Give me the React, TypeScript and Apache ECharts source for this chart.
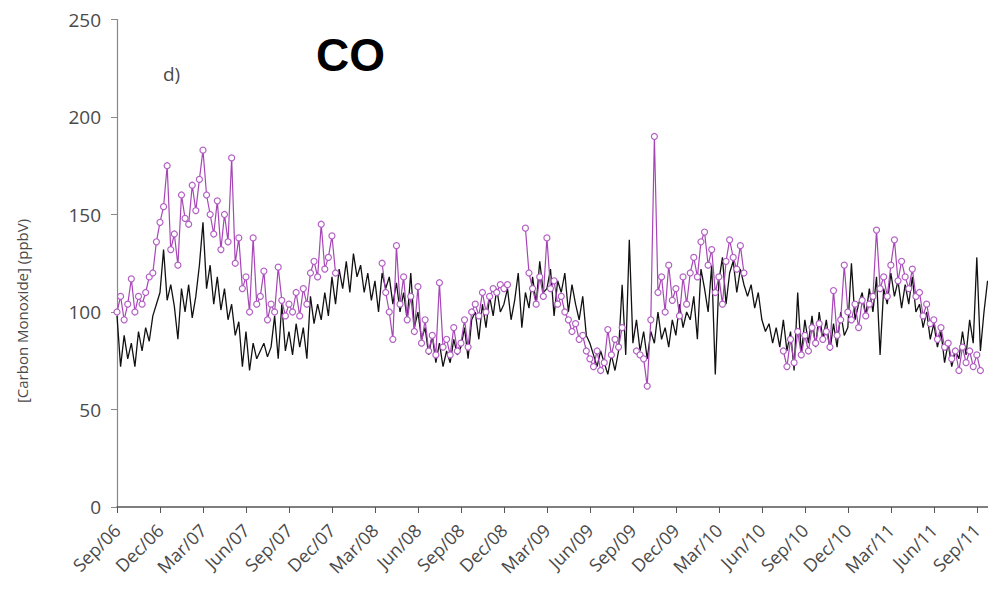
import React, { useEffect, useRef } from "react";
import * as echarts from "echarts";

// Months since Sep 2006; 4 readings per month (roughly weekly)
const monthNames = ["Sep", "Oct", "Nov", "Dec", "Jan", "Feb", "Mar", "Apr", "May", "Jun", "Jul", "Aug"];
const startYear = 2006;
const tickMonths = [0, 3, 6, 9, 12, 15, 18, 21, 24, 27, 30, 33, 36, 39, 42, 45, 48, 51, 54, 57, 60];
const yTicks = [0, 50, 100, 150, 200, 250];

// black series (ppbV)
const blackValues: number[] = [
  98, 72, 88, 76, 84, 72, 90, 80, 92, 85, 98, 104, 110, 132, 106, 114,
  103, 86, 112, 100, 114, 97, 108, 124, 146, 112, 124, 104, 118, 101, 112, 96,
  104, 88, 95, 72, 90, 70, 84, 76, 80, 84, 77, 82, 98, 76, 104, 80,
  90, 78, 94, 82, 92, 76, 108, 94, 104, 96, 110, 98, 118, 104, 122, 112,
  126, 110, 130, 118, 124, 110, 120, 106, 116, 100, 120, 112, 118, 104, 115, 100,
  110, 96, 120, 92, 100, 86, 92, 78, 88, 74, 84, 72, 80, 74, 86, 78,
  82, 92, 76, 96, 100, 86, 104, 92, 108, 98, 112, 100, 104, 112, 96, 106,
  120, 92, 110, 102, 118, 104, 126, 110, 112, 122, 98, 116, 110, 120, 100, 114,
  104, 96, 108, 88, 84, 78, 72, 80, 74, 68, 78, 70, 80, 114, 78, 137,
  84, 96, 80, 90, 76, 90, 84, 100, 86, 92, 82, 96, 88, 104, 92, 100,
  96, 108, 86, 122, 112, 100, 124, 68, 116, 128, 104, 120, 126, 110, 122, 114,
  108, 114, 102, 110, 96, 90, 94, 84, 92, 82, 96, 80, 90, 70, 110, 78,
  96, 84, 98, 82, 100, 86, 96, 80, 94, 82, 100, 88, 92, 125, 96, 104,
  110, 98, 112, 100, 118, 78, 112, 104, 120, 108, 116, 102, 114, 104, 118, 100,
  104, 92, 100, 86, 94, 82, 90, 74, 84, 72, 80, 76, 90, 78, 96, 84,
  128, 80, 100, 116,
];

// purple series with circles (ppbV), null = no data
const purpleValues: (number | null)[] = [
  100, 108, 96, 104, 117, 100, 108, 104, 110, 118, 120, 136, 146, 154, 175, 132,
  140, 124, 160, 148, 145, 165, 152, 168, 183, 160, 150, 140, 157, 132, 150, 136,
  179, 125, 138, 112, 118, 100, 138, 104, 108, 121, 96, 104, 100, 123, 106, 98,
  104, 100, 110, 98, 112, 104, 120, 126, 118, 145, 122, 128, 139, 120, null, null,
  null, null, null, null, null, null, null, null, null, null, 125, 110, 100, 86, 134, 104,
  118, 96, 108, 90, 113, 84, 96, 80, 88, 78, 115, 82, 86, 78, 92, 80,
  84, 96, 82, 100, 104, 98, 110, 100, 108, 112, 110, 114, 112, 114, null, null,
  null, null, 143, 120, 112, 104, 118, 108, 138, 112, 116, 104, 108, 100, 96, 90,
  94, 86, 88, 80, 76, 72, 80, 70, 74, 91, 78, 86, 82, 92, null, null,
  null, 80, 78, 76, 62, 96, 190, 110, 118, 100, 124, 106, 112, 98, 118, 104,
  120, 128, 118, 136, 141, 124, 132, 110, 118, 104, 126, 137, 128, 122, 134, 120,
  null, null, null, null, null, null, null, null, null, null, 80, 72, 86, 74, 90, 78,
  88, 80, 92, 84, 94, 86, 90, 82, 111, 88, 96, 124, 100, 96, 104, 92,
  106, 98, 104, 108, 142, 112, 118, 108, 124, 137, 116, 126, 118, 112, 122, 108,
  110, 98, 104, 94, 96, 86, 92, 82, 84, 76, 80, 70, 82, 74, 80, 72,
  78, 70, null, null,
];

const xMax = 60.78;

function monthLabel(v: number): string {
  const m = Math.round(v);
  const name = monthNames[m % 12];
  const year = startYear + Math.floor((m + 8) / 12);
  return name + "/" + String(year % 100).padStart(2, "0");
}

export default function App() {
  const ref = useRef<HTMLDivElement>(null);
  useEffect(() => {
    if (!ref.current) return;
    const chart = echarts.init(ref.current, undefined, { renderer: "svg" });
    const black = blackValues.map((v, i) => [i / 4, v]);
    const purple = purpleValues.map((v, i) => [i / 4, v]);
    const labelFont = "'Open Sans', 'Noto Sans', sans-serif";
    chart.setOption({
      animation: false,
      backgroundColor: "#ffffff",
      grid: { left: 117, right: 0, top: 19.5, bottom: 91, containLabel: false },
      xAxis: {
        type: "value",
        min: 0,
        max: xMax,
        interval: 3,
        splitLine: { show: false },
        axisLine: { show: true, lineStyle: { color: "#555", width: 1.5 } },
        axisTick: { show: true, length: 6, customValues: tickMonths, lineStyle: { color: "#555" } },
        axisLabel: {
          customValues: tickMonths,
          rotate: 45,
          margin: 20,
          fontFamily: labelFont,
          fontSize: 18,
          color: "#4a4a4a",
          formatter: (v: number) => monthLabel(v),
        },
      },
      yAxis: {
        type: "value",
        min: 0,
        max: 250,
        interval: 50,
        splitLine: { show: false },
        axisLine: { show: true, lineStyle: { color: "#888", width: 1.2 } },
        axisTick: { show: true, length: 6, lineStyle: { color: "#888" } },
        axisLabel: {
          margin: 16,
          fontFamily: labelFont,
          fontSize: 19,
          color: "#4a4a4a",
          formatter: (v: number) => (yTicks.includes(v) ? String(v) : ""),
        },
      },
      series: [
        {
          type: "line",
          name: "black",
          data: black,
          showSymbol: false,
          symbol: "none",
          lineStyle: { color: "#111", width: 1.3 },
          z: 2,
        },
        {
          type: "line",
          name: "purple",
          data: purple,
          connectNulls: false,
          symbol: "circle",
          symbolSize: 6,
          showSymbol: true,
          showAllSymbol: true,
          lineStyle: { color: "#a646b6", width: 1.2 },
          itemStyle: { color: "#ffffff", borderColor: "#b35fc4", borderWidth: 1.2 },
          z: 3,
        },
      ],
      graphic: [
        {
          type: "text",
          left: 316,
          top: 32,
          style: {
            text: "CO",
            font: "bold 46px 'Liberation Sans', Arial, sans-serif",
            fill: "#000",
          },
        },
        {
          type: "text",
          left: 163,
          top: 64,
          style: {
            text: "d)",
            font: "19px 'Open Sans', sans-serif",
            fill: "#4a4a4a",
          },
        },
        {
          type: "text",
          x: 22,
          y: 311,
          rotation: Math.PI / 2,
          style: {
            text: "[Carbon Monoxide] (ppbV)",
            font: "15px 'Open Sans', sans-serif",
            fill: "#4a4a4a",
            align: "center",
            verticalAlign: "middle",
          },
        },
      ],
    });
    return () => chart.dispose();
  }, []);
  return (
    <div
      ref={ref}
      style={{ position: "fixed", left: 0, top: 0, width: 988, height: 598, background: "#fff" }}
    />
  );
}
